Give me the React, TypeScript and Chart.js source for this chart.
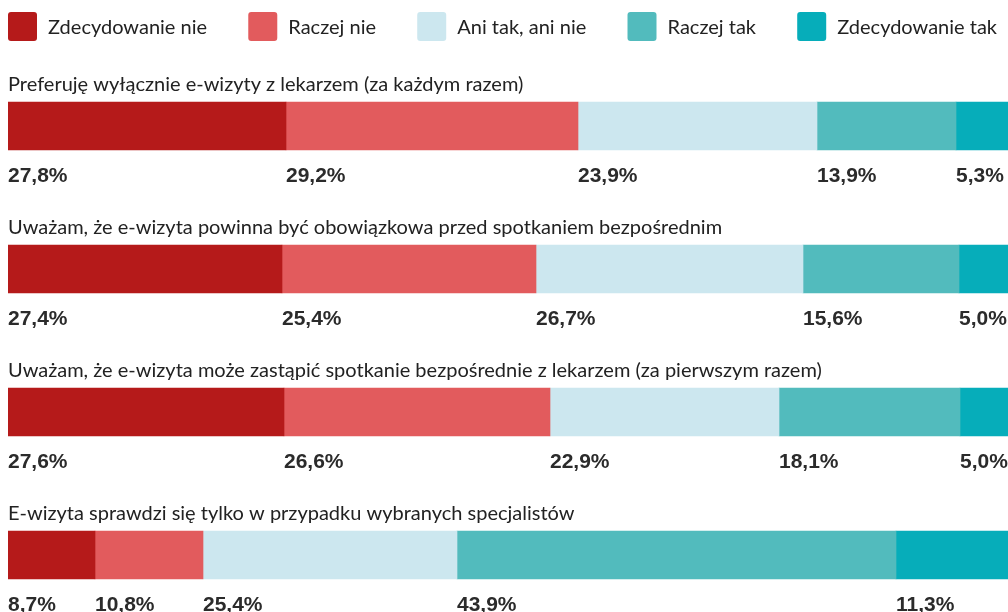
import React, { useEffect, useRef } from "react";
import { Chart, registerables } from "chart.js";

Chart.register(...registerables);

const categories = [
  "Preferuję wyłącznie e-wizyty z lekarzem (za każdym razem)",
  "Uważam, że e-wizyta powinna być obowiązkowa przed spotkaniem bezpośrednim",
  "Uważam, że e-wizyta może zastąpić spotkanie bezpośrednie z lekarzem (za pierwszym razem)",
  "E-wizyta sprawdzi się tylko w przypadku wybranych specjalistów",
];

const seriesNames = ["Zdecydowanie nie", "Raczej nie", "Ani tak, ani nie", "Raczej tak", "Zdecydowanie tak"];
const zdecydowanieNie = [27.8, 27.4, 27.6, 8.7];
const raczejNie = [29.2, 25.4, 26.6, 10.8];
const aniTakAniNie = [23.9, 26.7, 22.9, 25.4];
const raczejTak = [13.9, 15.6, 18.1, 43.9];
const zdecydowanieTak = [5.3, 5.0, 5.0, 11.3];
const seriesColors = ["#B51A1A", "#E25B5D", "#CCE7EF", "#52BBBD", "#06ADBA"];

const TITLE_FONT = "20px Lato";
const VALUE_FONT = "bold 21px 'Liberation Sans'";
const LEGEND_FONT = "20px Lato";

const overlayPlugin = {
  id: "overlay",
  afterDatasetsDraw(chart: any) {
    const ctx = chart.ctx;
    ctx.save();
    const firstMeta = chart.getDatasetMeta(0);
    ctx.font = TITLE_FONT;
    ctx.fillStyle = "#222222";
    ctx.textAlign = "left";
    ctx.textBaseline = "alphabetic";
    firstMeta.data.forEach((el: any, j: number) => {
      const top = el.y - el.height / 2;
      ctx.fillText(chart.data.labels[j], chart.chartArea.left, top - 11);
    });
    ctx.font = VALUE_FONT;
    ctx.fillStyle = "#2B2B2B";
    chart.data.datasets.forEach((ds: any, i: number) => {
      const meta = chart.getDatasetMeta(i);
      meta.data.forEach((el: any, j: number) => {
        const v = ds.data[j];
        const txt = v.toFixed(1).replace(".", ",") + "%";
        const bottom = el.y + el.height / 2;
        ctx.fillText(txt, Math.min(el.base, el.x), bottom + 32);
      });
    });
    ctx.font = LEGEND_FONT;
    const box = 29;
    const gapText = 11;
    const items = chart.data.datasets.map((ds: any) => ({
      label: ds.label,
      color: ds.backgroundColor,
      w: box + gapText + ctx.measureText(ds.label).width,
    }));
    const totalW = items.reduce((a: number, b: any) => a + b.w, 0);
    const avail = chart.width - 11;
    const gap = (avail - totalW) / (items.length - 1);
    let x = 0;
    const by = 4;
    items.forEach((it: any) => {
      ctx.fillStyle = it.color;
      ctx.beginPath();
      (ctx as any).roundRect(x, by, box, box, 3);
      ctx.fill();
      ctx.fillStyle = "#222222";
      ctx.textBaseline = "middle";
      ctx.fillText(it.label, x + box + gapText, by + box / 2 + 1);
      x += it.w + gap;
    });
    ctx.restore();
  },
};

export default function App() {
  const ref = useRef<HTMLCanvasElement>(null);
  useEffect(() => {
    if (!ref.current) return;
    document.documentElement.style.overflow = "hidden";
    document.body.style.overflow = "hidden";
    const series = [zdecydowanieNie, raczejNie, aniTakAniNie, raczejTak, zdecydowanieTak];
    const chart = new Chart(ref.current, {
      type: "bar",
      data: {
        labels: categories,
        datasets: series.map((d, i) => ({
          label: seriesNames[i],
          data: d,
          backgroundColor: seriesColors[i],
          borderWidth: 0,
          barThickness: 48,
          clip: false as any,
        })),
      },
      options: {
        indexAxis: "y",
        animation: false,
        responsive: true,
        maintainAspectRatio: false,
        layout: { padding: { top: 118, bottom: 57, left: 0, right: 0 } },
        scales: {
          x: { stacked: true, min: 0, max: 100, display: false },
          y: { stacked: true, display: false, offset: false },
        },
        plugins: {
          legend: { display: false },
          tooltip: { enabled: false },
        },
      },
      plugins: [overlayPlugin],
    });
    return () => chart.destroy();
  }, []);
  return (
    <div style={{ position: "absolute", left: 8, top: 8, width: 1000, height: 604 }}>
      <canvas ref={ref} />
    </div>
  );
}
